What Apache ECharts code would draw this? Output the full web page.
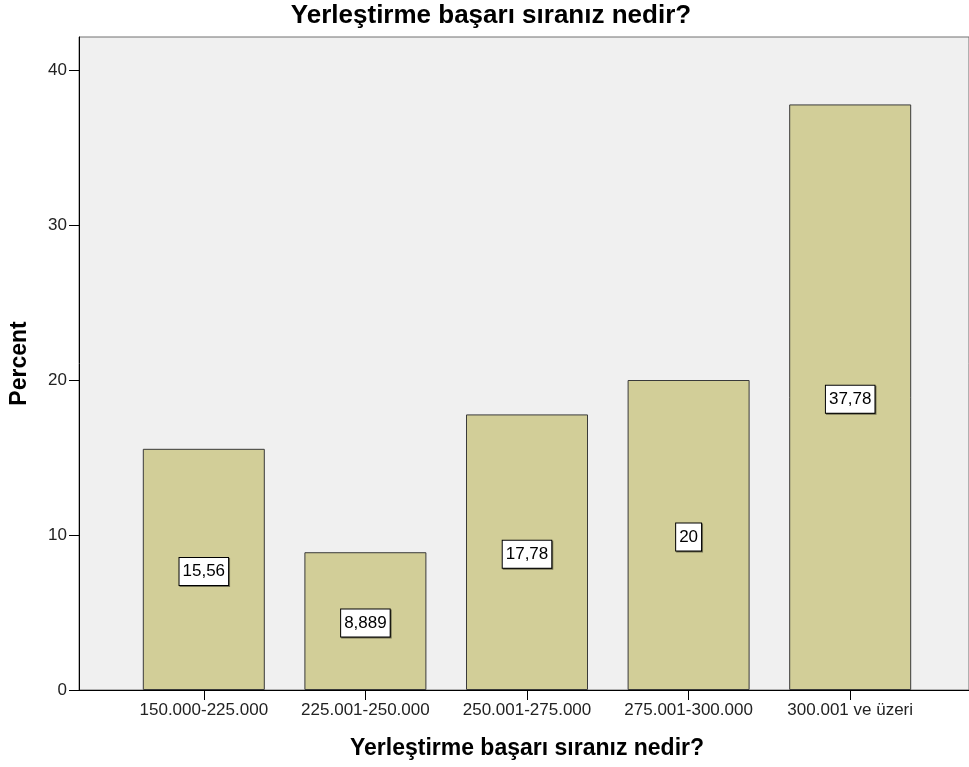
<!DOCTYPE html>
<html>
<head>
<meta charset="utf-8">
<script src="https://cdn.jsdelivr.net/npm/echarts@6/dist/echarts.min.js"></script>
<style>
  html, body { margin: 0; padding: 0; background: #fff; }
  #chart { width: 969px; height: 767px; }
</style>
</head>
<body>
<div id="chart"></div>
<script>
const titleText = 'Yerleştirme başarı sıranız nedir?'
const categories = ['150.000-225.000', '225.001-250.000', '250.001-275.000', '275.001-300.000', '300.001 ve üzeri']
const percents = [15.56, 8.889, 17.78, 20, 37.78]
const yTicks = [0, 10, 20, 30, 40]
const yMax = 42.13

const font = 'Arial, "Liberation Sans", sans-serif'
const chart = echarts.init(document.getElementById('chart'))

// grid 0: frame + y axis; grid 1: bars (narrower, like SPSS)
const option = {
  animation: false,
  title: {
    text: titleText,
    left: 491,
    top: 3,
    padding: 0,
    textAlign: 'center',
    textStyle: { fontFamily: font, fontSize: 26, fontWeight: 'bold', color: '#000' },
  },
  grid: [
    {
      left: 78, right: -2, top: 37, bottom: 77,
      show: true, backgroundColor: '#f0f0f0', borderColor: '#707070', borderWidth: 1,
    },
    { left: 123, right: 38, top: 37, bottom: 77 },
  ],
  xAxis: [
    {
      gridIndex: 0, type: 'value', min: 0, max: 1,
      axisLine: { show: true, onZero: false, lineStyle: { color: '#000', width: 1 } },
      axisTick: { show: false }, axisLabel: { show: false }, splitLine: { show: false },
    },
    {
      gridIndex: 1, type: 'category', data: categories,
      name: titleText, nameLocation: 'middle', nameGap: 47,
      nameTextStyle: { fontFamily: font, fontSize: 23, fontWeight: 'bold', color: '#000' },
      axisLine: { show: false },
      axisTick: { show: true, alignWithLabel: true, length: 10, inside: false, lineStyle: { color: '#000' } },
      axisLabel: { fontFamily: font, fontSize: 17, color: '#222', margin: 12, interval: 0 },
    },
  ],
  yAxis: [
    {
      gridIndex: 0, type: 'value', min: 0, max: yMax,
      name: 'Percent', nameLocation: 'middle', nameGap: 48, nameRotate: 90,
      nameTextStyle: { fontFamily: font, fontSize: 23, fontWeight: 'bold', color: '#000' },
      axisLine: { show: true, lineStyle: { color: '#000', width: 1 } },
      axisTick: { show: true, length: 10, lineStyle: { color: '#000' }, customValues: yTicks },
      axisLabel: { fontFamily: font, fontSize: 17, color: '#222', margin: 12, customValues: yTicks },
      splitLine: { show: false },
    },
    {
      gridIndex: 1, type: 'value', min: 0, max: yMax, show: false, splitLine: { show: false },
    },
  ],
  series: [
    {
      type: 'bar',
      xAxisIndex: 1,
      yAxisIndex: 1,
      data: percents,
      barWidth: 122,
      itemStyle: { color: '#d2ce98', borderColor: '#3a3a3a', borderWidth: 1 },
      label: {
        show: true,
        position: 'inside',
        offset: [0, 2],
        formatter: (p) => String(p.value).replace('.', ','),
        fontFamily: font,
        fontSize: 17,
        color: '#000',
        backgroundColor: '#fff',
        borderColor: '#000',
        borderWidth: 1,
        padding: [5, 3, 5, 3],
        shadowColor: 'rgba(0,0,0,0.45)',
        shadowOffsetX: 1,
        shadowOffsetY: 1,
      },
    },
  ],
}

chart.setOption(option)
</script>
</body>
</html>
